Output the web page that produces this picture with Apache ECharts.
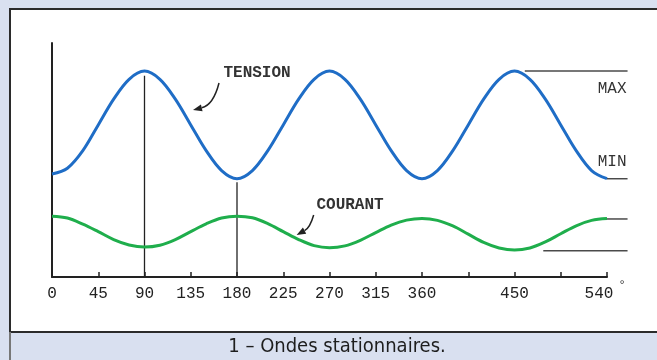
<!DOCTYPE html>
<html>
<head>
<meta charset="utf-8">
<script src="https://cdn.jsdelivr.net/npm/echarts@6/dist/echarts.min.js"></script>
<style>
  html, body { margin: 0; padding: 0; background: #d9e0f0; }
  #chart { width: 657px; height: 360px; }
</style>
</head>
<body>
<div id="chart"></div>
<script>
// Phase angle in degrees, sampled every 15°
const degrees = [0, 15, 30, 45, 60, 75, 90, 105, 120, 135, 150, 165, 180, 195, 210, 225, 240, 255, 270,
                 285, 300, 315, 330, 345, 360, 375, 390, 405, 420, 435, 450, 465, 480, 495, 510, 525, 540];

// Voltage (TENSION) amplitude along the line
const tension = [44, 46.5, 54, 65, 76, 84.5, 88, 84.5, 76, 65, 54, 45.5, 42, 45.5, 54, 65, 76, 84.5, 88,
                 84.5, 76, 65, 54, 45.5, 42, 45.5, 54, 65, 76, 84.5, 88, 84.5, 76, 65, 54, 45.5, 42];

// Current (COURANT) amplitude along the line
const courant = [26, 25.2, 22.6, 19.4, 16, 13.7, 12.8, 13.6, 16, 19.4, 22.7, 25.2, 26, 25.3, 22.8, 19.4, 16, 13.4, 12.5,
                 13.3, 15.7, 19, 22.2, 24.3, 25, 24.2, 21.8, 18.3, 14.8, 12.4, 11.5, 12.4, 15, 18.5, 21.9, 24.2, 25];

// Labels shown under the 45° ticks (405 and 495 are left blank)
const tickLabels = ['0', '45', '90', '135', '180', '225', '270', '315', '360', '', '450', '', '540'];

// Vertical markers at 90° and 180°: [angle, top value]
const markers = [[90, 86], [180, 40.5]];

// MAX / MIN guide levels drawn at the right end: [start angle, end angle, level]
const tensionMaxGuide = [460, 560, 88];
const tensionMinGuide = [540, 560, 42];
const courantMaxGuide = [540, 560, 24.8];
const courantMinGuide = [478, 560, 11.2];

const chart = echarts.init(document.getElementById('chart'), null, { renderer: 'canvas' });

const xy = (a, b) => a.map((d, i) => [d, b[i]]);
const markerSeries = markers.map(m => ({
  type: 'line', data: [[m[0], 0], [m[0], m[1]]], showSymbol: false, silent: true,
  lineStyle: { color: '#222', width: 1.3 }, z: 1
}));

const mono = '"Liberation Mono", "DejaVu Sans Mono", monospace';

chart.setOption({
  animation: false,
  backgroundColor: 'transparent',
  grid: { left: 52, right: 50, top: 43, bottom: 83 },
  xAxis: {
    type: 'value', min: 0, max: 540, interval: 45,
    axisLine: { show: true, onZero: false, lineStyle: { color: '#222', width: 2 } },
    axisTick: { show: true, inside: true, length: 5, lineStyle: { color: '#222', width: 1.5 } },
    axisLabel: {
      margin: 9, color: '#222', fontFamily: mono, fontSize: 16,
      formatter: v => {
        const t = tickLabels[Math.round(v / 45)] || '';
        return v === 540 ? '{end|' + t + '}' : t;
      },
      rich: { end: { padding: [0, 16, 0, 0], fontFamily: mono, fontSize: 16, color: '#222' } }
    },
    splitLine: { show: false }
  },
  yAxis: {
    type: 'value', min: 0, max: 100,
    axisLine: { show: true, lineStyle: { color: '#222', width: 2 } },
    axisTick: { show: false }, axisLabel: { show: false }, splitLine: { show: false }
  },
  series: [
    ...markerSeries,
    {
      name: 'TENSION', type: 'line', data: xy(degrees, tension), smooth: 0.35, showSymbol: false,
      lineStyle: { color: '#1f6dc6', width: 3 }, z: 3
    },
    {
      name: 'COURANT', type: 'line', data: xy(degrees, courant), smooth: 0.35, showSymbol: false,
      lineStyle: { color: '#1fae4c', width: 3 }, z: 3
    }
  ]
});

// Linear angle/level -> pixel mapping taken from the axes (also valid past the axis ends)
const o = chart.convertToPixel({ gridIndex: 0 }, [0, 0]);
const e = chart.convertToPixel({ gridIndex: 0 }, [540, 100]);
const px = (a, v) => [o[0] + (e[0] - o[0]) * a / 540, o[1] + (e[1] - o[1]) * v / 100];

function guide(g) {
  const p = px(g[0], g[2]), q = px(g[1], g[2]);
  return { type: 'line', z: 1, shape: { x1: p[0], y1: p[1], x2: q[0], y2: q[1] },
    style: { stroke: '#4a4a4a', lineWidth: 1.5 } };
}

function arrow(from, ctrl, tip) {
  const ang = Math.atan2(tip[1] - ctrl[1], tip[0] - ctrl[0]);
  const len = 9, half = 3.5;
  const bx = tip[0] - len * Math.cos(ang), by = tip[1] - len * Math.sin(ang);
  const nx = -Math.sin(ang) * half, ny = Math.cos(ang) * half;
  return [
    { type: 'bezierCurve', z: 10, shape: { x1: from[0], y1: from[1], cpx1: ctrl[0], cpy1: ctrl[1], x2: bx, y2: by },
      style: { stroke: '#222', lineWidth: 1.5, fill: null } },
    { type: 'polygon', z: 10, shape: { points: [tip, [bx + nx, by + ny], [bx - nx, by - ny]] },
      style: { fill: '#222' } }
  ];
}

function label(text, a, v, bold) {
  const p = px(a, v);
  return { type: 'text', z: 10, x: p[0], y: p[1],
    style: { text, fill: '#333', font: (bold ? 'bold ' : '') + '16px ' + mono, align: 'center', verticalAlign: 'middle' } };
}

const deg540 = px(540, 0);

chart.setOption({
  graphic: [
    { type: 'rect', z: -10, shape: { x: 10, y: 9, width: 660, height: 323 },
      style: { fill: '#ffffff', stroke: '#2b2b2b', lineWidth: 2 } },
    { type: 'line', z: -9, shape: { x1: 10, y1: 332, x2: 10, y2: 360 }, style: { stroke: '#777', lineWidth: 2 } },
    { type: 'text', z: 10, x: 337, y: 347,
      style: { text: '1 – Ondes stationnaires.', fill: '#1e1e1e',
        font: '20px "Liberation Sans Narrow", "DejaVu Sans Condensed", "Noto Sans", sans-serif',
        align: 'center', verticalAlign: 'middle' } },
    { type: 'text', z: 10, x: deg540[0] + 15, y: deg540[1] + 9,
      style: { text: '°', fill: '#333', font: '12px ' + mono, align: 'center', verticalAlign: 'middle' } },
    guide(tensionMaxGuide), guide(tensionMinGuide), guide(courantMaxGuide), guide(courantMinGuide),
    label('TENSION', 199.5, 87.3, true),
    label('COURANT', 290, 30.8, true),
    label('MAX', 545, 80.3, false),
    label('MIN', 545, 49.1, false),
    ...arrow(px(162.5, 82.9), px(157, 73.5), px(137.2, 71.4)),
    ...arrow(px(254.6, 26.5), px(251, 21), px(238, 18))
  ]
});
</script>
</body>
</html>
